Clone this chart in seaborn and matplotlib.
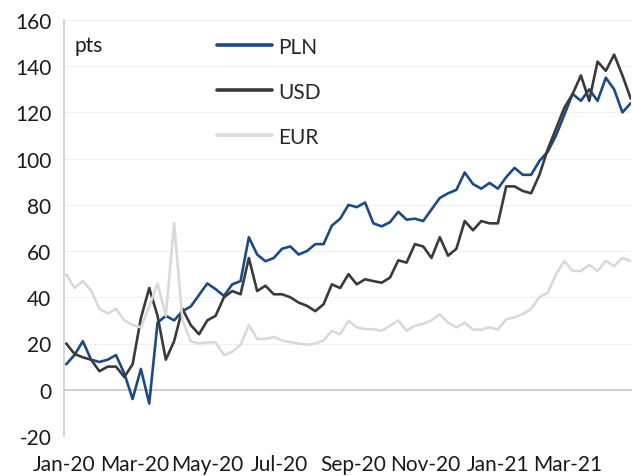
import matplotlib
matplotlib.use('Agg')
import matplotlib.pyplot as plt
import pandas as pd
import seaborn as sns

sns.set_style('white')
plt.rcParams['font.family'] = ['Lato', 'DejaVu Sans']
plt.rcParams['axes.unicode_minus'] = False

# weekly readings (Fridays), Jan-2020 .. Apr-2021
dates = pd.date_range('2020-01-03', periods=69, freq='W-FRI')

pln = [11, 15, 21, 13, 12, 13, 15, 7, -4, 9,
       -6, 29, 32, 30, 34, 36, 41, 46, 43.5, 40.6,
       45.6, 47, 66, 58.5, 55.6, 57, 61, 62, 58.5, 60,
       63, 63, 71, 74, 80, 79, 81, 72, 70.7, 72.5,
       77, 73.6, 74, 73, 78, 83, 85, 86.5, 94, 89,
       87, 89.5, 87, 92, 96, 93, 93, 99, 103, 110,
       119, 128, 125, 130, 125, 135, 130, 120, 124]
usd = [20, 15.5, 14, 13, 8, 10, 10, 5.5, 11, 31,
       44, 32, 13, 21, 35, 28, 24, 30, 32, 40,
       42.7, 41.3, 57, 42.7, 45, 41.3, 41.3, 40, 37.7, 36.3,
       34, 37, 45.6, 44, 50, 45.6, 47.8, 47, 46.3, 48.5,
       56, 55, 63, 62, 57, 66, 58, 61, 73, 69,
       73, 72, 72, 88, 88, 86, 85, 93, 104, 113,
       122, 128, 136, 125, 142, 138, 145, 136, 126]
eur = [50, 44, 47, 43, 35, 33, 35, 30, 28, 27,
       36, 46, 32, 72, 30, 21, 20, 20.5, 20.5, 15,
       16.4, 19.4, 28, 22, 22, 22.8, 21.3, 20.6, 20, 19.4,
       20, 21.3, 25.5, 24, 29.8, 27, 26.2, 26.2, 25.5, 27.7,
       30, 25.5, 27.7, 28.5, 30, 32.7, 29, 27, 29, 26,
       26, 27, 26, 30.5, 31.3, 32.7, 35, 40, 42, 50,
       55.7, 51.4, 51.4, 54, 51.4, 55.7, 53.5, 57, 55.7]

series_names = ['PLN', 'USD', 'EUR']
colors = {'PLN': '#1c4a86', 'USD': '#3a3a3a', 'EUR': '#d9d9d9'}

tick_dates = pd.to_datetime(['2020-01-01', '2020-03-01', '2020-05-01', '2020-07-01',
                             '2020-09-01', '2020-11-01', '2021-01-01', '2021-03-01'])
tick_labels = ['Jan-20', 'Mar-20', 'May-20', 'Jul-20',
               'Sep-20', 'Nov-20', 'Jan-21', 'Mar-21']
y_ticks = list(range(-20, 161, 20))

df = pd.DataFrame({'date': dates, 'PLN': pln, 'USD': usd, 'EUR': eur})
long = df.melt(id_vars='date', var_name='currency', value_name='pts')

fig = plt.figure(figsize=(6.32, 4.77), dpi=100)
ax = fig.add_axes([0.101, 0.084, 0.897, 0.872])

for y in y_ticks:
    ax.axhline(y, color='#f0f0f0', lw=0.8, zorder=0)

sns.lineplot(data=long, x='date', y='pts', hue='currency', hue_order=series_names,
             palette=colors, linewidth=1.9, legend=False, ax=ax, zorder=3)
handles = list(ax.lines[-3:])

ax.set_xlim(pd.Timestamp('2020-01-01'), pd.Timestamp('2021-04-23'))
ax.set_ylim(-20, 160)
ax.set_yticks(y_ticks)
ax.set_xticks(tick_dates)
ax.set_xticklabels(tick_labels)
ax.set_xlabel('')
ax.set_ylabel('')

for side in ('top', 'right'):
    ax.spines[side].set_visible(False)
ax.spines['left'].set_color('#d0d0d0')
ax.spines['left'].set_linewidth(1.2)
ax.spines['bottom'].set_position(('data', 0))
ax.spines['bottom'].set_color('#c8c8c8')
ax.spines['bottom'].set_linewidth(1.2)

ax.tick_params(axis='y', length=6, width=1, color='#d0d0d0', labelsize=15,
               labelcolor='#1a1a1a', pad=3)
ax.tick_params(axis='x', length=6, width=1, color='#c8c8c8', labelsize=15,
               labelcolor='#1a1a1a', pad=40)

ax.text(0.019, 0.94, 'pts', transform=ax.transAxes, fontsize=15,
        color='#1a1a1a', va='center', ha='left')

ax.legend(handles, series_names, loc='upper left', bbox_to_anchor=(0.271, 0.96),
          frameon=False, fontsize=15, handlelength=2.6, handletextpad=0.3,
          labelspacing=1.2, borderpad=0, borderaxespad=0)
for line in ax.get_legend().get_lines():
    line.set_linewidth(2.6)

fig.savefig('out.png', dpi=100)
